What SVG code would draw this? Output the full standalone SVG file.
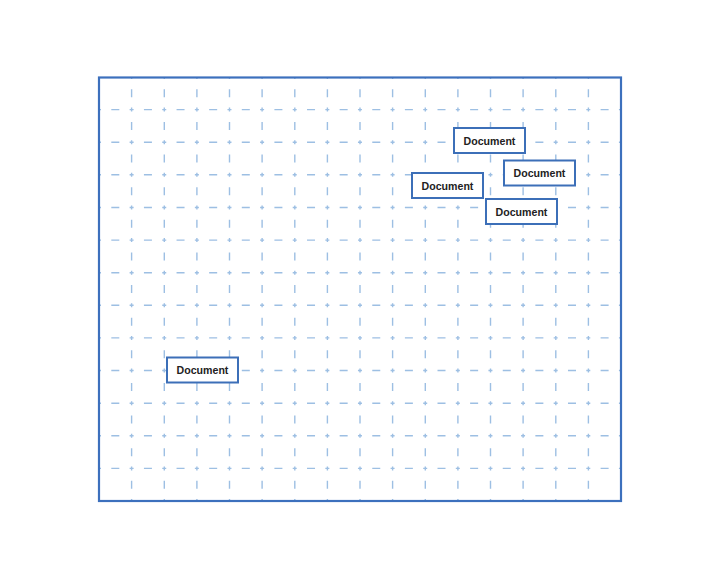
<svg xmlns="http://www.w3.org/2000/svg" width="720" height="579" viewBox="0 0 720 579">
<style>
.v,.h{stroke:#9dbfe3;stroke-width:1.4;stroke-dasharray:4 10.31 8 10.31;stroke-dashoffset:2;fill:none}
.frame{fill:none;stroke:#3c70bd;stroke-width:2.2}
.doc rect{fill:#ffffff;stroke:#3c6fb8;stroke-width:2}
.doc text{font-family:"Liberation Sans",Arial,sans-serif;font-weight:bold;font-size:10.6px;fill:#222;text-anchor:middle;dominant-baseline:central}
</style>
<rect width="720" height="579" fill="#ffffff"/>
<g id="grid">
<path class="v" d="M131.6 77V501M164.3 77V501M196.9 77V501M229.5 77V501M262.1 77V501M294.8 77V501M327.4 77V501M360 77V501M392.6 77V501M425.3 77V501M457.9 77V501M490.5 77V501M523.1 77V501M555.8 77V501M588.4 77V501"/>
<path class="h" d="M99 109.6H621M99 142.2H621M99 174.8H621M99 207.5H621M99 240.1H621M99 272.7H621M99 305.3H621M99 337.9H621M99 370.5H621M99 403.2H621M99 435.8H621M99 468.4H621"/>
</g>
<rect id="frame" class="frame" x="99" y="77.5" width="522" height="423.5"/>
<g id="connectors"></g>
<g id="doc1" class="doc"><rect x="454" y="128" width="71" height="25"/><text x="489.5" y="140.5">Document</text></g>
<g id="doc2" class="doc"><rect x="504" y="160.5" width="71" height="25"/><text x="539.5" y="173">Document</text></g>
<g id="doc3" class="doc"><rect x="412" y="173" width="71" height="25"/><text x="447.5" y="185.5">Document</text></g>
<g id="doc4" class="doc"><rect x="486" y="199" width="71" height="25"/><text x="521.5" y="211.5">Document</text></g>
<g id="doc5" class="doc"><rect x="167" y="357.5" width="71" height="25"/><text x="202.5" y="370">Document</text></g>
</svg>
